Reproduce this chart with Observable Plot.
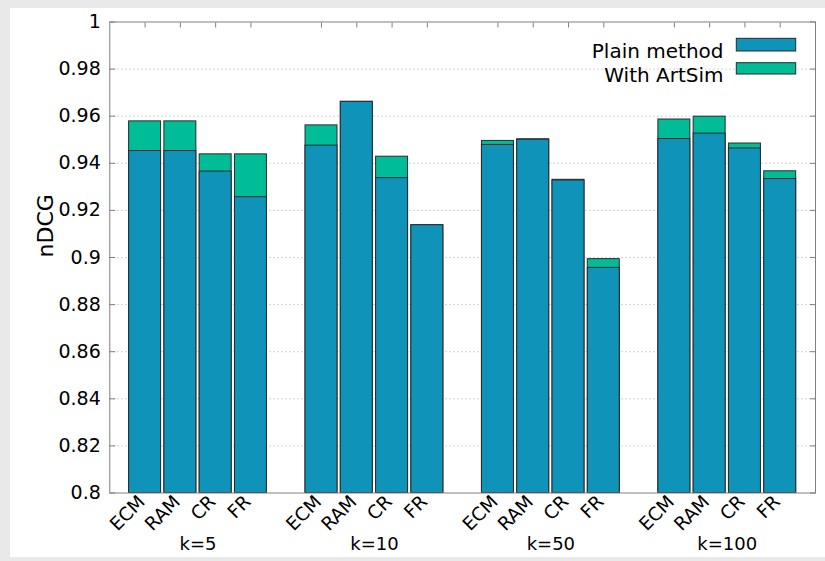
<!DOCTYPE html>
<html><head><meta charset="utf-8">
<script src="https://cdn.jsdelivr.net/npm/d3@7"></script>
<script src="https://cdn.jsdelivr.net/npm/@observablehq/plot@0.6"></script>
<style>
html,body{margin:0;padding:0;background:#e9e9e9;width:825px;height:561px;overflow:hidden}
#panel{position:absolute;left:10px;top:8px;width:815px;height:549px;background:#fff}
</style></head><body><div id="panel"></div>
<script>
const groups = ["k=5", "k=10", "k=50", "k=100"];
const methods = ["ECM", "RAM", "CR", "FR"];
const plainMethod = [0.9452, 0.9452, 0.9365, 0.9256, 0.9475, 0.9661, 0.9337, 0.9137, 0.9478, 0.9500, 0.9327, 0.8956, 0.9503, 0.9526, 0.9463, 0.9333];
const withArtSim = [0.9578, 0.9578, 0.9438, 0.9438, 0.9561, 0.9661, 0.9428, 0.9137, 0.9495, 0.9502, 0.9330, 0.8993, 0.9586, 0.9598, 0.9484, 0.9366];
const yTicks = [0.8, 0.82, 0.84, 0.86, 0.88, 0.9, 0.92, 0.94, 0.96, 0.98, 1];
const seriesNames = ["Plain method", "With ArtSim"];
const colors = ["#1093b8", "#00bd98"];

const rows = [];
groups.forEach((g, gi) => methods.forEach((m, mi) => {
  const i = gi * 4 + mi;
  rows.push({group: g, method: m, pos: gi * 5 + mi, plain: plainMethod[i], artsim: withArtSim[i]});
}));
const groupRows = groups.map((g, gi) => ({group: g, pos: gi * 5 + 1.5}));

const W = 815, H = 549, mL = 99.3, mR = 10, mT = 13.5, mB = 64.5;
const fw = W - mL - mR, fh = H - mT - mB;
const half = 0.453;
const edge = "#2a2a2a", axisGray = "#808080";

const plot = Plot.plot({
  width: W, height: H, marginLeft: mL, marginRight: mR, marginTop: mT, marginBottom: mB,
  style: {fontFamily: "DejaVu Sans", background: "transparent", color: "#000", overflow: "visible"},
  x: {type: "linear", domain: [-1, 19], axis: null},
  y: {domain: [0.8, 1], axis: null},
  marks: [
    Plot.ruleY(yTicks.slice(1, -1), {stroke: "#c4c4c4", strokeDasharray: "1.5,2.5"}),
    Plot.rectY(rows, {x1: d => d.pos - half, x2: d => d.pos + half, y1: 0.8, y2: "artsim", fill: colors[1], stroke: edge}),
    Plot.rectY(rows, {x1: d => d.pos - half, x2: d => d.pos + half, y1: 0.8, y2: "plain", fill: colors[0], stroke: edge}),
    Plot.frame({stroke: axisGray}),
    Plot.axisY({ticks: yTicks, tickSize: -6, tickPadding: 15, tickFormat: d => String(d), fontSize: 19, label: null, stroke: axisGray}),
    Plot.axisY({anchor: "right", ticks: yTicks, tickSize: -6, tickFormat: () => "", label: null, stroke: axisGray}),
    Plot.axisX({anchor: "top", ticks: rows.map(d => d.pos), tickSize: -5, tickFormat: () => "", label: null, stroke: axisGray}),
    Plot.text(rows, {x: "pos", text: "method", frameAnchor: "bottom", dy: 10, dx: 1, rotate: -45, textAnchor: "end", fontSize: 18.5}),
    Plot.text(groupRows, {x: "pos", text: "group", frameAnchor: "bottom", dy: 57, fontSize: 18}),
    Plot.text(["nDCG"], {text: d => d, frameAnchor: "left", dx: -64, rotate: -90, fontSize: 22}),
    Plot.text([seriesNames[0]], {text: d => d, frameAnchor: "top-right", dx: -92, dy: 22, textAnchor: "end", fontSize: 20}),
    Plot.text([seriesNames[1]], {text: d => d, frameAnchor: "top-right", dx: -92, dy: 45.5, textAnchor: "end", fontSize: 20}),
    Plot.rect([0], {fill: colors[0], stroke: edge, insetLeft: fw - 78.7, insetRight: 19.3, insetTop: 16.8, insetBottom: fh - 29.5}),
    Plot.rect([1], {fill: colors[1], stroke: edge, insetLeft: fw - 78.7, insetRight: 19.3, insetTop: 41.2, insetBottom: fh - 52.5})
  ]
});
document.getElementById("panel").appendChild(plot);
</script>
</body></html>
